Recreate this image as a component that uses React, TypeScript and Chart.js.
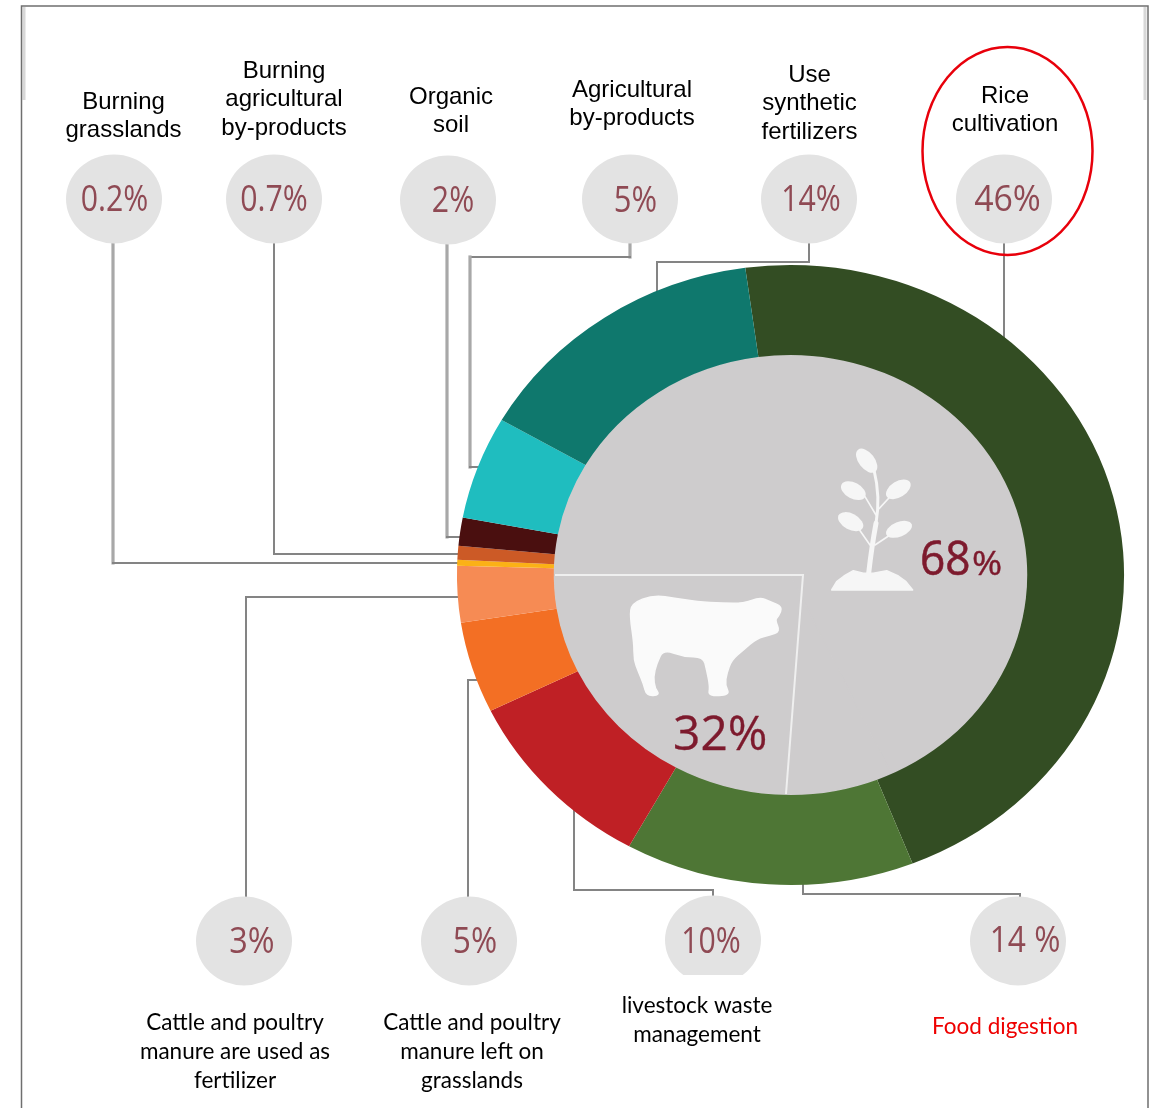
import React, { useEffect, useRef } from "react";
import { Chart, registerables } from "chart.js";

Chart.register(...registerables);

// ---- data ----
const sliceNames = [
  "Rice cultivation",
  "Food digestion",
  "Livestock waste management",
  "Manure left on grasslands",
  "Manure used as fertilizer",
  "Burning grasslands",
  "Burning agricultural by-products",
  "Organic soil",
  "Agricultural by-products",
  "Use synthetic fertilizers",
];
const sliceValues = [46.2, 14, 9.75, 4.75, 2.94, 0.3, 0.72, 1.47, 5.36, 14.5];
const sliceColors = [
  "#334d23", "#4e7635", "#bf2025", "#f36f24", "#f68b54",
  "#fbb116", "#cc5a26", "#4a0f0f", "#1fbdbf", "#0f786d",
];
const shareNames = ["Plants", "Animals"];
const shareValues = [68, 32];

const topPercents = ["0.2%", "0.7%", "2%", "5%", "14%", "46%"];
const bottomPercents = ["3%", "5%", "10%", "14 %"];
const topLabels = [
  ["Burning", "grasslands"],
  ["Burning", "agricultural", "by-products"],
  ["Organic", "soil"],
  ["Agricultural", "by-products"],
  ["Use", "synthetic", "fertilizers"],
  ["Rice", "cultivation"],
];
const bottomLabels = [
  ["Cattle and poultry", "manure are used as", "fertilizer"],
  ["Cattle and poultry", "manure left on", "grasslands"],
  ["livestock waste", "management"],
  ["Food digestion"],
];

// ---- layout ----
const W = 1158;
const H = 1108;
const CX = 790.5;
const CY = 575;
const RY = 310;
const STRETCH = 1.076;
const INNER_RY = 220;
const CIRCLE_RX = 48;
const CIRCLE_RY = 44.5;
const GREY = "#cecccd";
const TEXT_RED = "#8f4a54";
const DARK_RED = "#7d1a2d";

const topCircles = [[114, 199], [274, 199], [448, 200], [630, 199], [809, 199], [1004, 199]];
const bottomCircles = [[244, 941], [469, 941], [713, 940], [1018, 941]];
// x centre, y centre and horizontal squeeze of each disc's text
const topTextPos = [
  [114.5, 201, 0.84], [274, 201, 0.84], [453, 202, 0.84], [635.5, 202, 0.86], [811, 201, 0.84], [1007.5, 201, 0.94],
];
const bottomTextPos = [[252, 943, 0.9], [475, 943, 0.88], [711, 943, 0.84], [1025, 942, 0.88]];
const topLabelPos = [
  [123.5, 102], [284, 71], [451, 97], [632, 90], [809.5, 75], [1005, 96],
];
const bottomLabelPos = [[235, 1023], [472, 1023], [697, 1006], [1005, 1027]];
const leaders = [
  [[113, 244], [113, 563], [460, 563]],
  [[274, 244], [274, 554], [460, 554]],
  [[447, 244], [447, 537], [460, 537]],
  [[630, 244], [630, 257], [470, 257], [470, 467], [480, 467]],
  [[809, 244], [809, 262], [657, 262], [657, 295]],
  [[1004, 244], [1004, 345]],
  [[246, 897], [246, 597], [462, 597]],
  [[468, 897], [468, 680], [482, 680]],
  [[713, 897], [713, 890], [574, 890], [574, 810]],
  [[1020, 897], [1020, 894], [803, 894], [803, 878]],
];
const thickVerticalLeaders = [0, 2, 3];
const cowOutline = [
  [65, 130], [130, 105], [200, 115], [260, 125], [340, 130], [400, 130], [450, 112], [480, 125],
  [518, 140], [505, 170], [495, 180], [510, 215], [480, 225], [440, 235], [400, 270], [365, 300],
  [350, 340], [345, 375], [360, 405], [295, 408], [300, 380], [290, 330], [280, 290], [220, 290],
  [160, 268], [140, 310], [130, 350], [135, 385], [150, 405], [110, 408], [100, 370], [85, 335],
  [72, 300], [72, 250], [60, 170],
];
const groundOutline = [
  [35, 450], [50, 425], [72, 408], [100, 392], [130, 400], [160, 400], [200, 392], [235, 408], [258, 425], [278, 450],
];
const leaves = [
  [140, 62, 42, 24, 52],
  [100, 152, 40, 24, 28],
  [235, 148, 41, 24, -32],
  [92, 245, 41, 24, 28],
  [237, 268, 41, 22, -22],
];
const branches = [
  [[168, 225], [135, 170]],
  [[178, 205], [215, 165]],
  [[150, 315], [115, 265]],
  [[165, 315], [210, 285]],
];

function narrowText(ctx: CanvasRenderingContext2D, s: string, x: number, y: number, scale: number, bold = 0) {
  ctx.save();
  ctx.translate(x, y);
  ctx.scale(scale, 1);
  ctx.fillText(s, 0, 0);
  if (bold) {
    ctx.lineWidth = bold;
    ctx.strokeStyle = ctx.fillStyle;
    ctx.strokeText(s, 0, 0);
  }
  ctx.restore();
}

const decorations = {
  id: "decorations",
  beforeDatasetsDraw(chart: any) {
    const ctx: CanvasRenderingContext2D = chart.ctx;
    // frame
    ctx.save();
    ctx.strokeStyle = "#d8d8d8";
    ctx.lineWidth = 3;
    ctx.beginPath();
    ctx.moveTo(24, 7);
    ctx.lineTo(24, 100);
    ctx.moveTo(1145, 7);
    ctx.lineTo(1145, 100);
    ctx.stroke();
    ctx.strokeStyle = "#6f6f6f";
    ctx.lineWidth = 1.5;
    ctx.beginPath();
    ctx.moveTo(21.5, H);
    ctx.lineTo(21.5, 6);
    ctx.lineTo(1148, 6);
    ctx.lineTo(1148, H);
    ctx.stroke();
    // leader lines: the source has heavier, paler verticals on some leaders
    ctx.lineCap = "square";
    leaders.forEach((path, index) => {
      for (let i = 1; i < path.length; i++) {
        const [x1, y1] = path[i - 1];
        const [x2, y2] = path[i];
        const heavy = x1 === x2 && thickVerticalLeaders.includes(index);
        ctx.lineWidth = heavy ? 3.2 : 2;
        ctx.strokeStyle = heavy ? "#a8a8a8" : "#848484";
        ctx.beginPath();
        ctx.moveTo(x1, y1);
        ctx.lineTo(x2, y2);
        ctx.stroke();
      }
    });
    ctx.restore();
    // stretch the ring: the reference is wider than tall
    ctx.save();
    ctx.translate(CX, CY);
    ctx.scale(STRETCH, 1);
    ctx.translate(-CX, -CY);
  },
  afterDatasetsDraw(chart: any) {
    const ctx: CanvasRenderingContext2D = chart.ctx;
    ctx.restore();
    ctx.save();

    // divider of the two inner shares
    ctx.strokeStyle = "#efefef";
    ctx.lineWidth = 2;
    ctx.beginPath();
    ctx.moveTo(555, 575);
    ctx.lineTo(803, 575);
    ctx.lineTo(786, 794);
    ctx.stroke();

    // cow
    ctx.fillStyle = "#fafafa";
    ctx.strokeStyle = "#fafafa";
    ctx.lineJoin = "round";
    ctx.lineWidth = 1.5;
    ctx.beginPath();
    const cowPoint = ([x, y]: number[]) => [610 + x / 3, 560 + y / 3];
    const last = cowPoint(cowOutline[cowOutline.length - 1]);
    const first = cowPoint(cowOutline[0]);
    ctx.moveTo((last[0] + first[0]) / 2, (last[1] + first[1]) / 2);
    cowOutline.forEach((p, i) => {
      const a = cowPoint(p);
      const b = cowPoint(cowOutline[(i + 1) % cowOutline.length]);
      ctx.quadraticCurveTo(a[0], a[1], (a[0] + b[0]) / 2, (a[1] + b[1]) / 2);
    });
    ctx.closePath();
    ctx.fill();
    ctx.stroke();

    // plant
    const px = (x: number) => 820 + x / 3;
    const py = (y: number) => 440 + y / 3;
    ctx.fillStyle = "#f6f6f6";
    ctx.strokeStyle = "#f6f6f6";
    ctx.beginPath();
    groundOutline.forEach(([x, y], i) => (i ? ctx.lineTo(px(x), py(y)) : ctx.moveTo(px(x), py(y))));
    ctx.closePath();
    ctx.fill();
    ctx.stroke();
    for (const [x, y, rx, ry, rot] of leaves) {
      ctx.beginPath();
      ctx.ellipse(px(x), py(y), rx / 3, ry / 3, (rot * Math.PI) / 180, 0, Math.PI * 2);
      ctx.fill();
    }
    ctx.lineCap = "round";
    ctx.lineWidth = 5;
    ctx.beginPath();
    ctx.moveTo(px(146), py(400));
    ctx.quadraticCurveTo(px(155), py(320), px(168), py(250));
    ctx.stroke();
    ctx.lineWidth = 3;
    ctx.beginPath();
    ctx.moveTo(px(168), py(250));
    ctx.quadraticCurveTo(px(182), py(170), px(162), py(90));
    ctx.stroke();
    ctx.lineWidth = 1.6;
    for (const [[x1, y1], [x2, y2]] of branches) {
      ctx.beginPath();
      ctx.moveTo(px(x1), py(y1));
      ctx.lineTo(px(x2), py(y2));
      ctx.stroke();
    }

    // grey discs with percentages
    const drawBubble = (cx: number, cy: number, text: string, pos: number[]) => {
      ctx.fillStyle = "#e3e3e3";
      ctx.beginPath();
      ctx.ellipse(cx, cy, CIRCLE_RX, CIRCLE_RY, 0, 0, Math.PI * 2);
      ctx.fill();
      ctx.fillStyle = TEXT_RED;
      ctx.font = '36px "Open Sans"';
      ctx.textAlign = "center";
      ctx.textBaseline = "middle";
      narrowText(ctx, text, pos[0], pos[1], pos[2]);
    };
    topCircles.forEach(([x, y], i) => drawBubble(x, y, topPercents[i], topTextPos[i]));
    bottomCircles.forEach(([x, y], i) => drawBubble(x, y, bottomPercents[i], bottomTextPos[i]));
    // the 10% disc is cut flat at its foot
    ctx.fillStyle = "#ffffff";
    ctx.fillRect(660, 975, 106, 12);

    // centre percentages
    ctx.fillStyle = DARK_RED;
    ctx.textBaseline = "alphabetic";
    ctx.textAlign = "left";
    ctx.font = '47px "Open Sans"';
    narrowText(ctx, String(shareValues[0]), 920, 575, 0.94, 0.6);
    ctx.font = '32px "Open Sans"';
    narrowText(ctx, "%", 972, 575, 1.14, 0.4);
    ctx.font = '47px "Open Sans"';
    narrowText(ctx, `${shareValues[1]}%`, 673, 750, 1.02, 0.3);

    // labels
    ctx.textAlign = "center";
    ctx.textBaseline = "middle";
    ctx.fillStyle = "#000000";
    ctx.font = '24px "Liberation Sans"';
    topLabels.forEach((lines, i) => {
      const [x, y] = topLabelPos[i];
      lines.forEach((line, j) => ctx.fillText(line, x, y + j * 28.7));
    });
    ctx.font = '22.5px "Lato"';
    bottomLabels.forEach((lines, i) => {
      const [x, y] = bottomLabelPos[i];
      ctx.fillStyle = i === 3 ? "#ee0000" : "#000000";
      lines.forEach((line, j) => ctx.fillText(line, x, y + j * 29));
    });

    // highlight
    ctx.strokeStyle = "#e8000b";
    ctx.lineWidth = 2.5;
    ctx.beginPath();
    ctx.ellipse(1007.5, 151, 85, 104, 0, 0, Math.PI * 2);
    ctx.stroke();
    ctx.restore();
  },
};

export default function App() {
  const ref = useRef<HTMLCanvasElement | null>(null);
  useEffect(() => {
    if (!ref.current) return;
    const chart = new Chart(ref.current, {
      type: "doughnut",
      data: {
        labels: sliceNames,
        datasets: [
          {
            label: "Sources",
            data: sliceValues,
            backgroundColor: sliceColors,
            borderWidth: 0,
            weight: RY - INNER_RY,
          } as any,
          {
            label: shareNames.join(" / "),
            data: shareValues,
            backgroundColor: [GREY, GREY],
            borderColor: GREY,
            borderWidth: 1,
            rotation: 270,
            weight: INNER_RY,
          } as any,
        ],
      },
      options: {
        responsive: false,
        animation: false,
        cutout: 0,
        rotation: -7.8,
        layout: {
          padding: {
            left: CX - RY,
            right: W - CX - RY,
            top: CY - RY,
            bottom: H - CY - RY,
          },
        },
        plugins: { legend: { display: false }, tooltip: { enabled: false } },
      },
      plugins: [decorations],
    } as any);
    return () => chart.destroy();
  }, []);
  return (
    <canvas
      ref={ref}
      width={W}
      height={H}
      style={{ position: "absolute", left: 0, top: 0, display: "block" }}
    />
  );
}
